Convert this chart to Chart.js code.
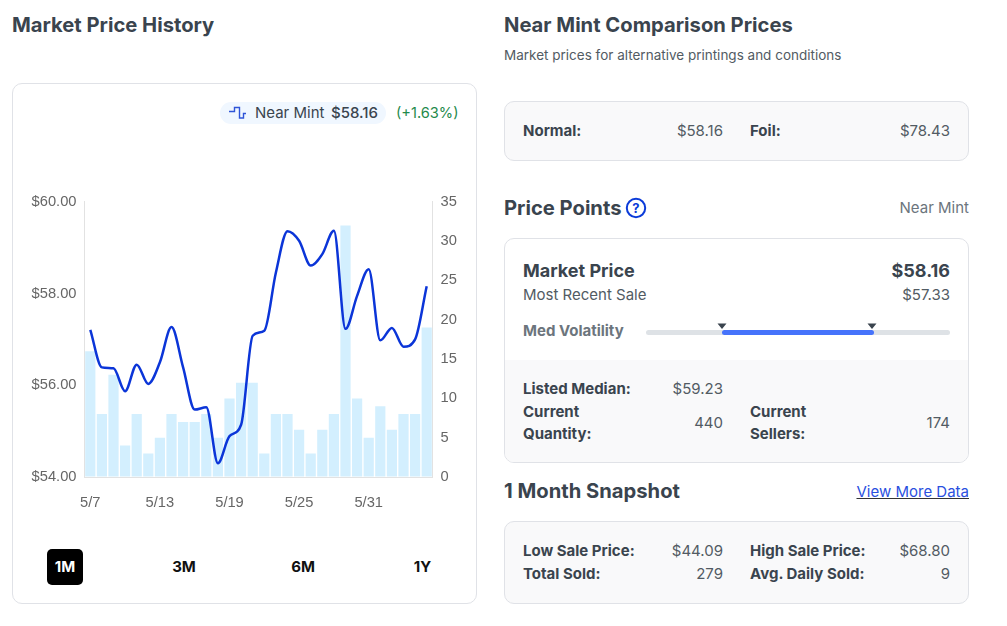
<!DOCTYPE html>
<html>
<head>
<meta charset="utf-8">
<title>Market Price History</title>
<script src="https://cdn.jsdelivr.net/npm/chart.js@4/dist/chart.umd.min.js"></script>
<style>
  html, body { margin: 0; padding: 0; background: #fff; }
  body { width: 1007px; height: 626px; position: relative; overflow: hidden;
         font-family: Inter, "Noto Sans", sans-serif; color: #3a444e; font-size: 15px; }
  .t { position: absolute; white-space: nowrap; line-height: 20px; height: 20px; }
  .r { text-align: right; }
  .v { color: #525b63; }
  .h { font-size: 20.2px; font-weight: 650; line-height: 28px; height: 28px; }
  .b { font-weight: 650; }
  .card { position: absolute; box-sizing: border-box; border: 1px solid #e0e2e7; border-radius: 10px; }
  .grey { background: #f9f9fa; }
  .range { position: absolute; top: 557px; font-size: 15px; font-weight: 700; color: #111; line-height: 20px; transform: translateX(-50%); }
  #wrap { position: absolute; left: 20px; top: 185px; width: 450px; height: 336px; }
</style>
</head>
<body>
  <div class="t h" style="left:12px;top:11px">Market Price History</div>
  <div class="t h" style="left:504px;top:11px">Near Mint Comparison Prices</div>
  <div class="t v" style="left:504px;top:45px;font-size:13.5px">Market prices for alternative printings and conditions</div>

  <div class="card" style="left:12px;top:83px;width:465px;height:521px"></div>
  <div style="position:absolute;left:220px;top:102px;width:166px;height:22px;border-radius:11px;background:#f0f7ff"></div>
  <svg style="position:absolute;left:228px;top:105px" width="20" height="16" viewBox="0 0 20 16">
    <path d="M1 6.5H6.5V2.5H11.5V13H15.5V8.5H18" fill="none" stroke="#2f55d8" stroke-width="1.4"/>
  </svg>
  <div class="t" style="left:255px;top:103px">Near Mint</div>
  <div class="t" style="left:331px;top:103px;font-weight:500">$58.16</div>
  <div class="t" style="left:396px;top:103px;color:#1f8a4c;font-size:14.6px">(+1.63%)</div>

  <div id="wrap"><canvas id="priceChart" width="450" height="336"></canvas></div>

  <div style="position:absolute;left:47px;top:549px;width:36px;height:36px;border-radius:5px;background:#000"></div>
  <div class="range" style="left:65px;color:#fff">1M</div>
  <div class="range" style="left:184px">3M</div>
  <div class="range" style="left:303px">6M</div>
  <div class="range" style="left:422.5px">1Y</div>

  <div class="card grey" style="left:504px;top:101px;width:465px;height:60px"></div>
  <div class="t b" style="left:523px;top:121px">Normal:</div>
  <div class="t r v" style="right:284px;top:121px">$58.16</div>
  <div class="t b" style="left:750px;top:121px">Foil:</div>
  <div class="t r v" style="right:57px;top:121px">$78.43</div>

  <div class="t h" style="left:504px;top:194px">Price Points</div>
  <svg style="position:absolute;left:625px;top:197px" width="22" height="22" viewBox="0 0 22 22">
    <circle cx="11" cy="11" r="9.2" fill="none" stroke="#0b3bd9" stroke-width="2"/>
    <text x="11" y="15.5" text-anchor="middle" font-family="Inter, sans-serif" font-size="13" font-weight="700" fill="#0b3bd9">?</text>
  </svg>
  <div class="t r" style="right:38px;top:198px;color:#6c757d">Near Mint</div>

  <div class="card" style="left:504px;top:238px;width:465px;height:225px;overflow:hidden">
    <div class="grey" style="position:absolute;left:0;right:0;top:121px;bottom:0"></div>
  </div>
  <div class="t" style="left:523px;top:261px;font-size:18px;font-weight:650">Market Price</div>
  <div class="t r" style="right:57px;top:261px;font-size:18px;font-weight:700">$58.16</div>
  <div class="t v" style="left:523px;top:285px">Most Recent Sale</div>
  <div class="t r v" style="right:57px;top:285px">$57.33</div>
  <div class="t b" style="left:523px;top:321px;color:#6c757d">Med Volatility</div>
  <div style="position:absolute;left:646px;top:330px;width:304px;height:5px;border-radius:3px;background:#dee2e6"></div>
  <div style="position:absolute;left:722px;top:330px;width:152px;height:5px;border-radius:3px;background:#4673fb"></div>
  <svg style="position:absolute;left:716px;top:323px" width="164" height="7" viewBox="0 0 164 7">
    <path d="M1.5 0.5H10.5L6 6Z M151.5 0.5H160.5L156 6Z" fill="#3a444e"/>
  </svg>

  <div class="t b" style="left:523px;top:379px">Listed Median:</div>
  <div class="t r v" style="right:284px;top:379px">$59.23</div>
  <div class="t b" style="left:523px;top:402px">Current</div>
  <div class="t b" style="left:523px;top:424px">Quantity:</div>
  <div class="t r v" style="right:284px;top:413px">440</div>
  <div class="t b" style="left:750px;top:402px">Current</div>
  <div class="t b" style="left:750px;top:424px">Sellers:</div>
  <div class="t r v" style="right:57px;top:413px">174</div>

  <div class="t h" style="left:504px;top:477px">1 Month Snapshot</div>
  <div class="t r" style="right:38px;top:482px;color:#2a50e0;text-decoration:underline;text-decoration-color:#333">View More Data</div>

  <div class="card grey" style="left:504px;top:521px;width:465px;height:83px"></div>
  <div class="t b" style="left:523px;top:541px">Low Sale Price:</div>
  <div class="t r v" style="right:284px;top:541px">$44.09</div>
  <div class="t b" style="left:750px;top:541px">High Sale Price:</div>
  <div class="t r v" style="right:57px;top:541px">$68.80</div>
  <div class="t b" style="left:523px;top:564px">Total Sold:</div>
  <div class="t r v" style="right:284px;top:564px">279</div>
  <div class="t b" style="left:750px;top:564px">Avg. Daily Sold:</div>
  <div class="t r v" style="right:57px;top:564px">9</div>

<script>
// Daily market price and quantity sold, Near Mint condition
const dates = ["5/7","5/8","5/9","5/10","5/11","5/12","5/13","5/14","5/15","5/16",
               "5/17","5/18","5/19","5/20","5/21","5/22","5/23","5/24","5/25","5/26",
               "5/27","5/28","5/29","5/30","5/31","6/1","6/2","6/3","6/4","6/5"];
const marketPrice = [57.21,56.39,56.37,55.87,56.45,56.03,56.50,57.27,56.39,55.47,
                     55.52,54.30,54.89,55.14,57.08,57.19,58.46,59.36,59.15,58.61,
                     58.86,59.37,57.23,57.95,58.53,56.98,57.25,56.84,57.00,58.16];
const quantitySold = [16,8,13,4,8,3,5,8,7,7,
                      8,5,10,12,12,3,8,8,6,3,
                      6,8,32,10,5,9,6,8,8,19];
const priceTicks = [54,56,58,60];

const tickFont = { family: '"Liberation Sans", Arial, sans-serif', size: 14.7 };
const axisColor = "#e2e2e2";

new Chart(document.getElementById("priceChart"), {
  data: {
    labels: dates,
    datasets: [
      { type: "line", label: "Near Mint", data: marketPrice, yAxisID: "price",
        borderColor: "#0b35d8", borderWidth: 2.5, pointRadius: 0,
        cubicInterpolationMode: "monotone", order: 1 },
      { type: "bar", label: "Sold", data: quantitySold, yAxisID: "sold",
        backgroundColor: "#d3effe", barPercentage: 0.88, categoryPercentage: 1, order: 2 }
    ]
  },
  options: {
    responsive: false,
    animation: false,
    events: [],
    layout: { padding: { top: 4, bottom: 0, left: 0, right: 0 } },
    plugins: { legend: { display: false }, tooltip: { enabled: false } },
    scales: {
      x: {
        offset: true,
        border: { color: axisColor },
        grid: { drawOnChartArea: false, drawTicks: false },
        afterFit(scale) { scale.height = 44; },
        ticks: {
          color: "#666", font: tickFont, padding: 17, maxRotation: 0, autoSkip: false,
          callback(value, index) { return index % 6 === 0 ? dates[index] : ""; }
        }
      },
      price: {
        position: "left", min: 54, max: 60,
        border: { color: axisColor },
        grid: { drawOnChartArea: false, drawTicks: false },
        afterFit(scale) { scale.width = 64.5; },
        afterBuildTicks(scale) { scale.ticks = priceTicks.map(v => ({ value: v })); },
        ticks: { color: "#666", font: tickFont, padding: 8,
                 callback: v => "$" + v.toFixed(2) }
      },
      sold: {
        position: "right", min: 0, max: 35,
        border: { color: axisColor },
        grid: { drawOnChartArea: false, drawTicks: false },
        afterFit(scale) { scale.width = 37.5; },
        ticks: { color: "#666", font: tickFont, padding: 8, stepSize: 5 }
      }
    }
  }
});
</script>
</body>
</html>
